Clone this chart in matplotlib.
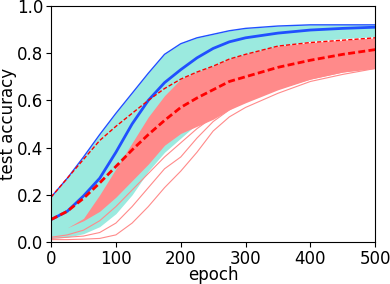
import numpy as np
import matplotlib
matplotlib.use('Agg')
import matplotlib.pyplot as plt

# values at these epochs
epochs = [0, 25, 50, 75, 100, 125, 150, 175, 200, 225, 250, 275, 300, 350, 400, 450, 500]

blue_mean = [0.095, 0.13, 0.195, 0.27, 0.38, 0.50, 0.60, 0.675, 0.73, 0.78, 0.82, 0.848, 0.865, 0.885, 0.898, 0.905, 0.91]
blue_max = [0.19, 0.27, 0.36, 0.455, 0.545, 0.63, 0.715, 0.795, 0.84, 0.865, 0.88, 0.895, 0.905, 0.915, 0.92, 0.92, 0.92]
cyan_low = [0.016, 0.02, 0.035, 0.065, 0.12, 0.2, 0.3, 0.38, 0.44, 0.5, 0.6, 0.74, 0.79, 0.83, 0.85, 0.862, 0.87]

red_mean = [0.095, 0.13, 0.185, 0.25, 0.32, 0.39, 0.455, 0.515, 0.57, 0.61, 0.645, 0.68, 0.70, 0.74, 0.77, 0.795, 0.815]
red_max = [0.19, 0.27, 0.35, 0.43, 0.49, 0.545, 0.60, 0.65, 0.69, 0.72, 0.745, 0.775, 0.795, 0.83, 0.845, 0.855, 0.865]
red_top = [0.04, 0.06, 0.10, 0.20, 0.31, 0.42, 0.53, 0.62, 0.69, 0.72, 0.745, 0.775, 0.795, 0.83, 0.845, 0.855, 0.865]
red_low = [0.04, 0.06, 0.09, 0.13, 0.19, 0.26, 0.33, 0.41, 0.46, 0.49, 0.52, 0.56, 0.59, 0.645, 0.69, 0.72, 0.735]

# a few slow runs that fall below the red bundle
slow_a = [0.01, 0.01, 0.012, 0.015, 0.03, 0.08, 0.15, 0.23, 0.30, 0.38, 0.47, 0.53, 0.57, 0.63, 0.68, 0.71, 0.735]
slow_b = [0.015, 0.02, 0.025, 0.04, 0.08, 0.15, 0.23, 0.31, 0.36, 0.44, 0.51, 0.56, 0.60, 0.65, 0.69, 0.72, 0.74]
slow_c = [0.02, 0.03, 0.05, 0.09, 0.15, 0.22, 0.29, 0.36, 0.42, 0.48, 0.53, 0.57, 0.61, 0.66, 0.70, 0.73, 0.75]

cyan = '#9beadf'
salmon = '#ff8a8a'
blue = '#2050ff'

fig = plt.figure(figsize=(3.9, 2.84), dpi=100)
ax = fig.add_axes([0.131, 0.148, 0.831, 0.831])

ax.fill_between(epochs, cyan_low, blue_max, color=cyan, lw=0)
ax.fill_between(epochs, red_low, red_top, color=salmon, lw=0)
for s in (slow_a, slow_b, slow_c):
    ax.plot(epochs, s, color=salmon, lw=0.8)

ax.plot(epochs, blue_mean, color=blue, lw=2)
ax.plot(epochs, blue_max, color=blue, lw=1)
ax.plot(epochs, red_mean, color='red', lw=2, dashes=(2.5, 1.2))
ax.plot(epochs, red_max, color='red', lw=1, dashes=(3, 1.5))

ax.set_xlim(0, 500)
ax.set_ylim(0, 1.0)
ax.set_xticks([0, 100, 200, 300, 400, 500])
ax.set_yticks([0.0, 0.2, 0.4, 0.6, 0.8, 1.0])
ax.tick_params(labelsize=12, pad=2)
ax.set_xlabel('epoch', fontsize=12, labelpad=-1)
ax.set_ylabel('test accuracy', fontsize=12, labelpad=0)

fig.savefig('out.png', dpi=100)
